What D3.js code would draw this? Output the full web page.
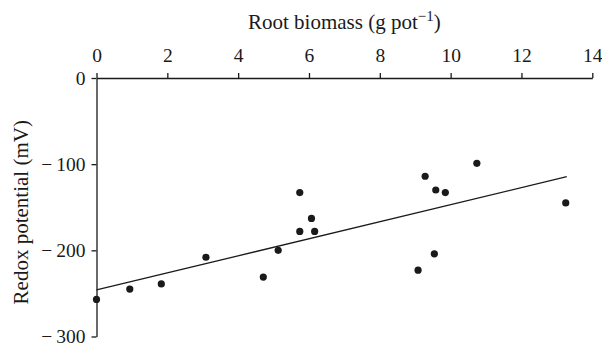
<!DOCTYPE html>
<html><head><meta charset="utf-8">
<script src="https://cdn.jsdelivr.net/npm/d3@7"></script>
</head>
<body style="margin:0;background:#fff"><svg id="c" width="602" height="344"></svg>
<script>
const biomass = [0, 0.94, 1.83, 3.09, 4.71, 5.13, 5.74, 5.74, 6.07, 6.16, 9.08, 9.28, 9.54, 9.58, 9.85, 10.74, 13.25];
const redox   = [-257, -245, -239, -208, -231, -200, -133, -178, -163, -178, -223, -114, -204, -130, -133, -99, -145];
const fitX = [0, 13.28];
const fitY = [-246, -114.5];
const xTicks = [0, 2, 4, 6, 8, 10, 12, 14];
const yTicks = [0, -100, -200, -300];

const FONT = '"Liberation Serif"';
const svg = d3.select("#c");
const m = {left: 96.5, right: 9.7, top: 78, bottom: 7.5};
const W = 602, H = 344;
const x = d3.scaleLinear().domain([0, 14]).range([m.left, W - m.right]);
const y = d3.scaleLinear().domain([0, -300]).range([m.top, H - m.bottom]);

const gx = svg.append("g").attr("transform", `translate(0,${m.top})`)
  .call(d3.axisTop(x).tickValues(xTicks).tickSize(5).tickSizeOuter(0).tickPadding(11).tickFormat(d3.format("d")));
const gy = svg.append("g").attr("transform", `translate(${m.left},0)`)
  .call(d3.axisLeft(y).tickValues(yTicks).tickSize(5).tickSizeOuter(0).tickPadding(6)
    .tickFormat(d => d < 0 ? "\u2212\u2009" + Math.abs(d) : d));
[gx, gy].forEach(g => {
  g.attr("font-family", null).attr("font-size", null);
  g.selectAll("path.domain").attr("stroke", "#1a1a1a").attr("stroke-width", 1.3);
  g.selectAll(".tick line").attr("stroke", "#1a1a1a").attr("stroke-width", 1.3);
  g.selectAll(".tick text").attr("fill", "#1a1a1a").attr("font-size", 19.5).style("font-family", FONT);
});

svg.append("line")
  .attr("x1", x(fitX[0])).attr("y1", y(fitY[0]))
  .attr("x2", x(fitX[1])).attr("y2", y(fitY[1]))
  .attr("stroke", "#1a1a1a").attr("stroke-width", 1.3);

svg.append("g").selectAll("circle").data(biomass.map((b, i) => [b, redox[i]])).join("circle")
  .attr("cx", d => x(d[0])).attr("cy", d => y(d[1])).attr("r", 3.6).attr("fill", "#1a1a1a");

const t = svg.append("text").attr("x", (m.left + W - m.right) / 2).attr("y", 29)
  .attr("text-anchor", "middle").attr("font-size", 21).style("font-family", FONT).attr("fill", "#1a1a1a");
t.append("tspan").text("Root biomass (g pot");
t.append("tspan").attr("font-size", 15).attr("dy", -8).text("\u22121");
t.append("tspan").attr("dy", 8).text(")");

svg.append("text").attr("transform", `translate(28,${(m.top + H - m.bottom) / 2 + 5}) rotate(-90)`)
  .attr("text-anchor", "middle").attr("font-size", 21).style("font-family", FONT).attr("fill", "#1a1a1a")
  .text("Redox potential (mV)");
</script></body></html>
